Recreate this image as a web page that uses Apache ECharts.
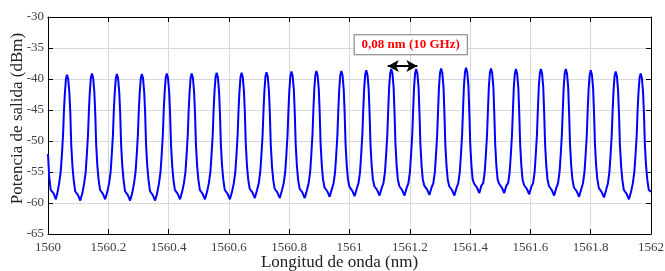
<!DOCTYPE html>
<html>
<head>
<meta charset="utf-8">
<script src="https://cdn.jsdelivr.net/npm/echarts@6/dist/echarts.min.js"></script>
<style>html,body{margin:0;padding:0;background:#fff}#c{width:665px;height:271px}</style>
</head>
<body>
<div id="c"></div>
<script>
// Wavelength (nm) samples
const wavelength = [
1560.0000,1560.0040,1560.0090,1560.0130,1560.0190,1560.0260,1560.0320,1560.0370,1560.0420,
1560.0460,1560.0500,1560.0530,1560.0560,1560.0595,1560.0630,1560.0670,1560.0710,1560.0740,1560.0770,1560.0810,1560.0850,1560.0900,1560.0940,1560.0990,1560.1070,1560.1140,1560.1200,1560.1250,
1560.1287,1560.1327,1560.1357,1560.1387,1560.1422,1560.1457,1560.1497,1560.1537,1560.1567,1560.1597,1560.1637,1560.1677,1560.1727,1560.1767,1560.1817,1560.1897,1560.1967,1560.2027,1560.2077,
1560.2114,1560.2154,1560.2184,1560.2214,1560.2249,1560.2284,1560.2324,1560.2364,1560.2394,1560.2424,1560.2464,1560.2504,1560.2554,1560.2594,1560.2644,1560.2724,1560.2794,1560.2854,1560.2904,
1560.2942,1560.2982,1560.3012,1560.3042,1560.3077,1560.3112,1560.3152,1560.3192,1560.3222,1560.3252,1560.3292,1560.3332,1560.3382,1560.3422,1560.3472,1560.3552,1560.3622,1560.3682,1560.3732,
1560.3769,1560.3809,1560.3839,1560.3869,1560.3904,1560.3939,1560.3979,1560.4019,1560.4049,1560.4079,1560.4119,1560.4159,1560.4209,1560.4249,1560.4299,1560.4379,1560.4449,1560.4509,1560.4559,
1560.4596,1560.4636,1560.4666,1560.4696,1560.4731,1560.4766,1560.4806,1560.4846,1560.4876,1560.4906,1560.4946,1560.4986,1560.5036,1560.5076,1560.5126,1560.5206,1560.5276,1560.5336,1560.5386,
1560.5423,1560.5463,1560.5493,1560.5523,1560.5558,1560.5593,1560.5633,1560.5673,1560.5703,1560.5733,1560.5773,1560.5813,1560.5863,1560.5903,1560.5953,1560.6033,1560.6103,1560.6163,1560.6213,
1560.6250,1560.6290,1560.6320,1560.6350,1560.6385,1560.6420,1560.6460,1560.6500,1560.6530,1560.6560,1560.6600,1560.6640,1560.6690,1560.6730,1560.6780,1560.6860,1560.6930,1560.6990,1560.7040,
1560.7078,1560.7118,1560.7148,1560.7178,1560.7213,1560.7248,1560.7288,1560.7328,1560.7358,1560.7388,1560.7428,1560.7468,1560.7518,1560.7558,1560.7608,1560.7688,1560.7758,1560.7818,1560.7868,
1560.7905,1560.7945,1560.7975,1560.8005,1560.8040,1560.8075,1560.8115,1560.8155,1560.8185,1560.8215,1560.8255,1560.8295,1560.8345,1560.8385,1560.8435,1560.8515,1560.8585,1560.8645,1560.8695,
1560.8732,1560.8772,1560.8802,1560.8832,1560.8867,1560.8902,1560.8942,1560.8982,1560.9012,1560.9042,1560.9082,1560.9122,1560.9172,1560.9212,1560.9262,1560.9342,1560.9412,1560.9472,1560.9522,
1560.9559,1560.9599,1560.9629,1560.9659,1560.9694,1560.9729,1560.9769,1560.9809,1560.9839,1560.9869,1560.9909,1560.9949,1560.9999,1561.0039,1561.0089,1561.0169,1561.0239,1561.0299,1561.0349,
1561.0386,1561.0426,1561.0456,1561.0486,1561.0521,1561.0556,1561.0596,1561.0636,1561.0666,1561.0696,1561.0736,1561.0776,1561.0826,1561.0866,1561.0916,1561.0996,1561.1066,1561.1126,1561.1176,
1561.1214,1561.1254,1561.1284,1561.1314,1561.1349,1561.1384,1561.1424,1561.1464,1561.1494,1561.1524,1561.1564,1561.1604,1561.1654,1561.1694,1561.1744,1561.1824,1561.1894,1561.1954,1561.2004,
1561.2041,1561.2081,1561.2111,1561.2141,1561.2176,1561.2211,1561.2251,1561.2291,1561.2321,1561.2351,1561.2391,1561.2431,1561.2481,1561.2521,1561.2571,1561.2651,1561.2721,1561.2781,1561.2831,
1561.2868,1561.2908,1561.2938,1561.2968,1561.3003,1561.3038,1561.3078,1561.3118,1561.3148,1561.3178,1561.3218,1561.3258,1561.3308,1561.3348,1561.3398,1561.3478,1561.3548,1561.3608,1561.3658,
1561.3695,1561.3735,1561.3765,1561.3795,1561.3830,1561.3865,1561.3905,1561.3945,1561.3975,1561.4005,1561.4045,1561.4085,1561.4135,1561.4175,1561.4225,1561.4305,1561.4375,1561.4435,1561.4485,
1561.4522,1561.4562,1561.4592,1561.4622,1561.4657,1561.4692,1561.4732,1561.4772,1561.4802,1561.4832,1561.4872,1561.4912,1561.4962,1561.5002,1561.5052,1561.5132,1561.5202,1561.5262,1561.5312,
1561.5350,1561.5390,1561.5420,1561.5450,1561.5485,1561.5520,1561.5560,1561.5600,1561.5630,1561.5660,1561.5700,1561.5740,1561.5790,1561.5830,1561.5880,1561.5960,1561.6030,1561.6090,1561.6140,
1561.6177,1561.6217,1561.6247,1561.6277,1561.6312,1561.6347,1561.6387,1561.6427,1561.6457,1561.6487,1561.6527,1561.6567,1561.6617,1561.6657,1561.6707,1561.6787,1561.6857,1561.6917,1561.6967,
1561.7004,1561.7044,1561.7074,1561.7104,1561.7139,1561.7174,1561.7214,1561.7254,1561.7284,1561.7314,1561.7354,1561.7394,1561.7444,1561.7484,1561.7534,1561.7614,1561.7684,1561.7744,1561.7794,
1561.7831,1561.7871,1561.7901,1561.7931,1561.7966,1561.8001,1561.8041,1561.8081,1561.8111,1561.8141,1561.8181,1561.8221,1561.8271,1561.8311,1561.8361,1561.8441,1561.8511,1561.8571,1561.8621,
1561.8658,1561.8698,1561.8728,1561.8758,1561.8793,1561.8828,1561.8868,1561.8908,1561.8938,1561.8968,1561.9008,1561.9048,1561.9098,1561.9138,1561.9188,1561.9268,1561.9338,1561.9398,1561.9448,
1561.9486,1561.9526,1561.9556,1561.9586,1561.9621,1561.9656,1561.9696,1561.9736,1561.9766,1561.9796,1561.9836,1561.9876,1561.9926,1561.9966,1562.0000
];
// Output power (dBm) at each sample
const power = [
-52.1,-55.8,-57.9,-57.7,-58.5,-59.4,-58.2,-56.8,-55.0,
-52.3,-49,-45,-42.3,-40.0,-39.3,-40.0,-42.3,-45.5,-50.5,-54,-56.2,-58.1,-57.9,-58.7,-59.6,-58.4,-56.8,-55,
-52.3,-49,-45,-42.1,-39.8,-39.1,-39.8,-42.1,-45.5,-50.5,-54,-56.2,-57.9,-57.7,-58.5,-59.4,-58.2,-56.8,-55,
-52.3,-49,-45,-42.2,-39.9,-39.2,-39.9,-42.2,-45.5,-50.5,-54,-56.2,-58.1,-57.9,-58.7,-59.6,-58.4,-56.8,-55,
-52.3,-49,-45,-42.2,-39.9,-39.2,-39.9,-42.2,-45.5,-50.5,-54,-56.2,-58.1,-57.9,-58.7,-59.6,-58.4,-56.8,-55,
-52.3,-49,-45,-42.1,-39.8,-39.1,-39.8,-42.1,-45.5,-50.5,-54,-56.2,-57.9,-57.7,-58.5,-59.4,-58.2,-56.8,-55,
-52.3,-49,-45,-42.1,-39.8,-39.1,-39.8,-42.1,-45.5,-50.5,-54,-56.2,-57.9,-57.7,-58.5,-59.4,-58.2,-56.8,-55,
-52.3,-49,-45,-42.0,-39.7,-39.0,-39.7,-42.0,-45.5,-50.5,-54,-56.2,-57.9,-57.7,-58.5,-59.4,-58.2,-56.8,-55,
-52.3,-49,-45,-42.0,-39.7,-39.0,-39.7,-42.0,-45.5,-50.5,-54,-56.2,-57.7,-57.5,-58.3,-59.2,-58.0,-56.8,-55,
-52.3,-49,-45,-41.9,-39.6,-38.9,-39.6,-41.9,-45.5,-50.5,-54,-56.2,-57.7,-57.5,-58.3,-59.2,-58.0,-56.8,-55,
-52.3,-49,-45,-41.8,-39.5,-38.8,-39.5,-41.8,-45.5,-50.5,-54,-56.2,-57.7,-57.5,-58.3,-59.2,-58.0,-56.8,-55,
-52.3,-49,-45,-41.7,-39.4,-38.7,-39.4,-41.7,-45.5,-50.5,-54,-56.2,-57.5,-57.3,-58.1,-59.0,-57.8,-56.8,-55,
-52.3,-49,-45,-41.7,-39.4,-38.7,-39.4,-41.7,-45.5,-50.5,-54,-56.2,-57.4,-57.2,-58.0,-58.9,-57.7,-56.8,-55,
-52.3,-49,-45,-41.6,-39.3,-38.6,-39.3,-41.6,-45.5,-50.5,-54,-56.2,-57.3,-57.1,-57.9,-58.8,-57.6,-56.8,-55,
-52.3,-49,-45,-41.4,-39.1,-38.4,-39.1,-41.4,-45.5,-50.5,-54,-56.2,-57.3,-57.1,-57.9,-58.8,-57.6,-56.8,-55,
-52.3,-49,-45,-41.4,-39.1,-38.4,-39.1,-41.4,-45.5,-50.5,-54,-56.2,-57.2,-57.0,-57.8,-58.7,-57.5,-56.8,-55,
-52.3,-49,-45,-41.3,-39.0,-38.3,-39.0,-41.3,-45.5,-50.5,-54,-56.2,-57.3,-57.1,-57.9,-58.8,-57.6,-56.8,-55,
-52.3,-49,-45,-41.2,-38.9,-38.2,-38.9,-41.2,-45.5,-50.5,-54,-56.2,-56.9,-56.7,-57.5,-58.4,-57.2,-56.8,-55,
-52.3,-49,-45,-41.3,-39.0,-38.3,-39.0,-41.3,-45.5,-50.5,-54,-56.2,-56.9,-56.7,-57.5,-58.4,-57.2,-56.8,-55,
-52.3,-49,-45,-41.4,-39.1,-38.4,-39.1,-41.4,-45.5,-50.5,-54,-56.2,-57.1,-56.9,-57.7,-58.6,-57.4,-56.8,-55,
-52.3,-49,-45,-41.4,-39.1,-38.4,-39.1,-41.4,-45.5,-50.5,-54,-56.2,-57.3,-57.1,-57.9,-58.8,-57.6,-56.8,-55,
-52.3,-49,-45,-41.4,-39.1,-38.4,-39.1,-41.4,-45.5,-50.5,-54,-56.2,-57.5,-57.3,-58.1,-59.0,-57.8,-56.8,-55,
-52.3,-49,-45,-41.6,-39.3,-38.6,-39.3,-41.6,-45.5,-50.5,-54,-56.2,-57.6,-57.4,-58.2,-59.1,-57.9,-56.8,-55,
-52.3,-49,-45,-41.8,-39.5,-38.8,-39.5,-41.8,-45.5,-50.5,-54,-56.2,-57.9,-57.7,-58.5,-59.4,-58.2,-56.8,-55,
-52.3,-49,-45,-42.1,-39.8,-39.1,-39.8,-42.1,-45.5,-50.5,-54,-56.2,-57.9,-57.7,-58.2
];
const xRange = [1560, 1562];
const yRange = [-65, -30];
const xLabel = 'Longitud de onda (nm)';
const yLabel = 'Potencia de salida (dBm)';
const noteText = '0,08 nm (10 GHz)';
const notePos = [1561.203, -34.47];
const arrowFrom = [1561.127, -37.9];
const arrowTo = [1561.225, -37.9];

const FONT = '"Liberation Serif", "Times New Roman", serif';
const data = wavelength.map((w, i) => [w, power[i]]);

const chart = echarts.init(document.getElementById('c'), null, {renderer: 'canvas'});
const tick = {show: true, inside: true, length: 5, lineStyle: {color: '#000', width: 1}};
const line = {show: true, onZero: false, lineStyle: {color: '#000', width: 1}};
chart.setOption({
  animation: false,
  backgroundColor: '#fff',
  grid: {left: 48, right: 14, top: 17, bottom: 37, containLabel: false, outerBoundsMode: 'none'},
  xAxis: [{
    type: 'value', min: xRange[0], max: xRange[1], interval: 0.2,
    name: xLabel, nameLocation: 'middle', nameGap: 20, nameMoveOverlap: false,
    nameTextStyle: {fontFamily: FONT, fontSize: 17, color: '#222', padding: [0, 20, 0, 0]},
    axisLine: line, axisTick: tick,
    axisLabel: {fontFamily: FONT, fontSize: 13, color: '#404040', margin: 7,
      formatter: v => String(Math.round(v * 10) / 10)},
    splitLine: {show: true, lineStyle: {color: '#d9d9d9', width: 1}}
  }, {
    type: 'value', position: 'top', min: xRange[0], max: xRange[1], interval: 0.2,
    axisLine: line, axisTick: tick, axisLabel: {show: false}, splitLine: {show: false}
  }],
  yAxis: [{
    type: 'value', min: yRange[0], max: yRange[1], interval: 5,
    name: yLabel, nameLocation: 'middle', nameGap: 22, nameMoveOverlap: false,
    nameTextStyle: {fontFamily: FONT, fontSize: 17, color: '#222', padding: [0, 0, 0, 14]},
    axisLine: line, axisTick: tick,
    axisLabel: {fontFamily: FONT, fontSize: 13, color: '#404040', margin: 4},
    splitLine: {show: true, lineStyle: {color: '#d9d9d9', width: 1}}
  }, {
    type: 'value', position: 'right', min: yRange[0], max: yRange[1], interval: 5,
    axisLine: line, axisTick: tick, axisLabel: {show: false}, splitLine: {show: false}
  }],
  series: [{
    type: 'line', data: data, showSymbol: false, smooth: false,
    lineStyle: {color: '#0000ff', width: 2}, itemStyle: {color: '#0000ff'},
    silent: true,
    markLine: {
      silent: true, symbol: ['arrow', 'arrow'], symbolSize: [9, 11],
      label: {show: false},
      lineStyle: {color: '#000', width: 2, type: 'solid'},
      data: [[{coord: arrowFrom}, {coord: arrowTo}]]
    },
    markPoint: {
      silent: true, symbol: 'circle', symbolSize: 1,
      itemStyle: {color: 'rgba(0,0,0,0)'},
      label: {show: true, position: 'inside', formatter: noteText,
        fontFamily: FONT, fontSize: 13, fontWeight: 'bold', color: '#ff0000',
        backgroundColor: '#fff', borderColor: '#777', borderWidth: 1, padding: [3, 7, 3, 7]},
      data: [{coord: notePos, value: 0}]
    }
  }]
});
</script>
</body>
</html>
